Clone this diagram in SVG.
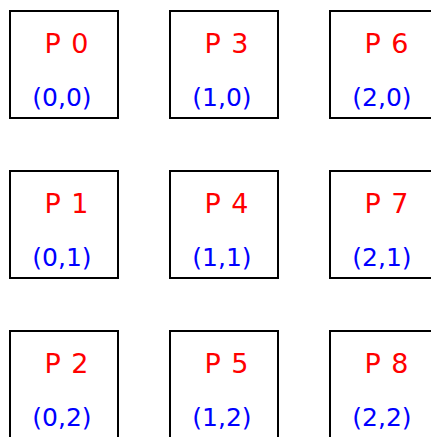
<svg xmlns="http://www.w3.org/2000/svg" width="431" height="437" viewBox="0 0 431 437">
<style>
rect.box{fill:#fff;stroke:#000;stroke-width:2}
text{font-family:"DejaVu Sans","Liberation Sans",sans-serif;text-anchor:middle}
.p{fill:#ff0000;font-size:27px;letter-spacing:1px}
.c{fill:#0000ff;font-size:25px}
</style>
<rect width="431" height="437" fill="#fff"/>
<g id="P0"><rect class="box" x="10" y="11" width="108" height="107"/><text class="p" x="67" y="53">P 0</text><text class="c" x="62" y="106">(0,0)</text></g>
<g id="P3"><rect class="box" x="170" y="11" width="108" height="107"/><text class="p" x="227" y="53">P 3</text><text class="c" x="222" y="106">(1,0)</text></g>
<g id="P6"><rect class="box" x="330" y="11" width="108" height="107"/><text class="p" x="387" y="53">P 6</text><text class="c" x="382" y="106">(2,0)</text></g>
<g id="P1"><rect class="box" x="10" y="171" width="108" height="107"/><text class="p" x="67" y="213">P 1</text><text class="c" x="62" y="266">(0,1)</text></g>
<g id="P4"><rect class="box" x="170" y="171" width="108" height="107"/><text class="p" x="227" y="213">P 4</text><text class="c" x="222" y="266">(1,1)</text></g>
<g id="P7"><rect class="box" x="330" y="171" width="108" height="107"/><text class="p" x="387" y="213">P 7</text><text class="c" x="382" y="266">(2,1)</text></g>
<g id="P2"><rect class="box" x="10" y="331" width="108" height="107"/><text class="p" x="67" y="373">P 2</text><text class="c" x="62" y="426">(0,2)</text></g>
<g id="P5"><rect class="box" x="170" y="331" width="108" height="107"/><text class="p" x="227" y="373">P 5</text><text class="c" x="222" y="426">(1,2)</text></g>
<g id="P8"><rect class="box" x="330" y="331" width="108" height="107"/><text class="p" x="387" y="373">P 8</text><text class="c" x="382" y="426">(2,2)</text></g>
<g id="connectors"/>
</svg>
